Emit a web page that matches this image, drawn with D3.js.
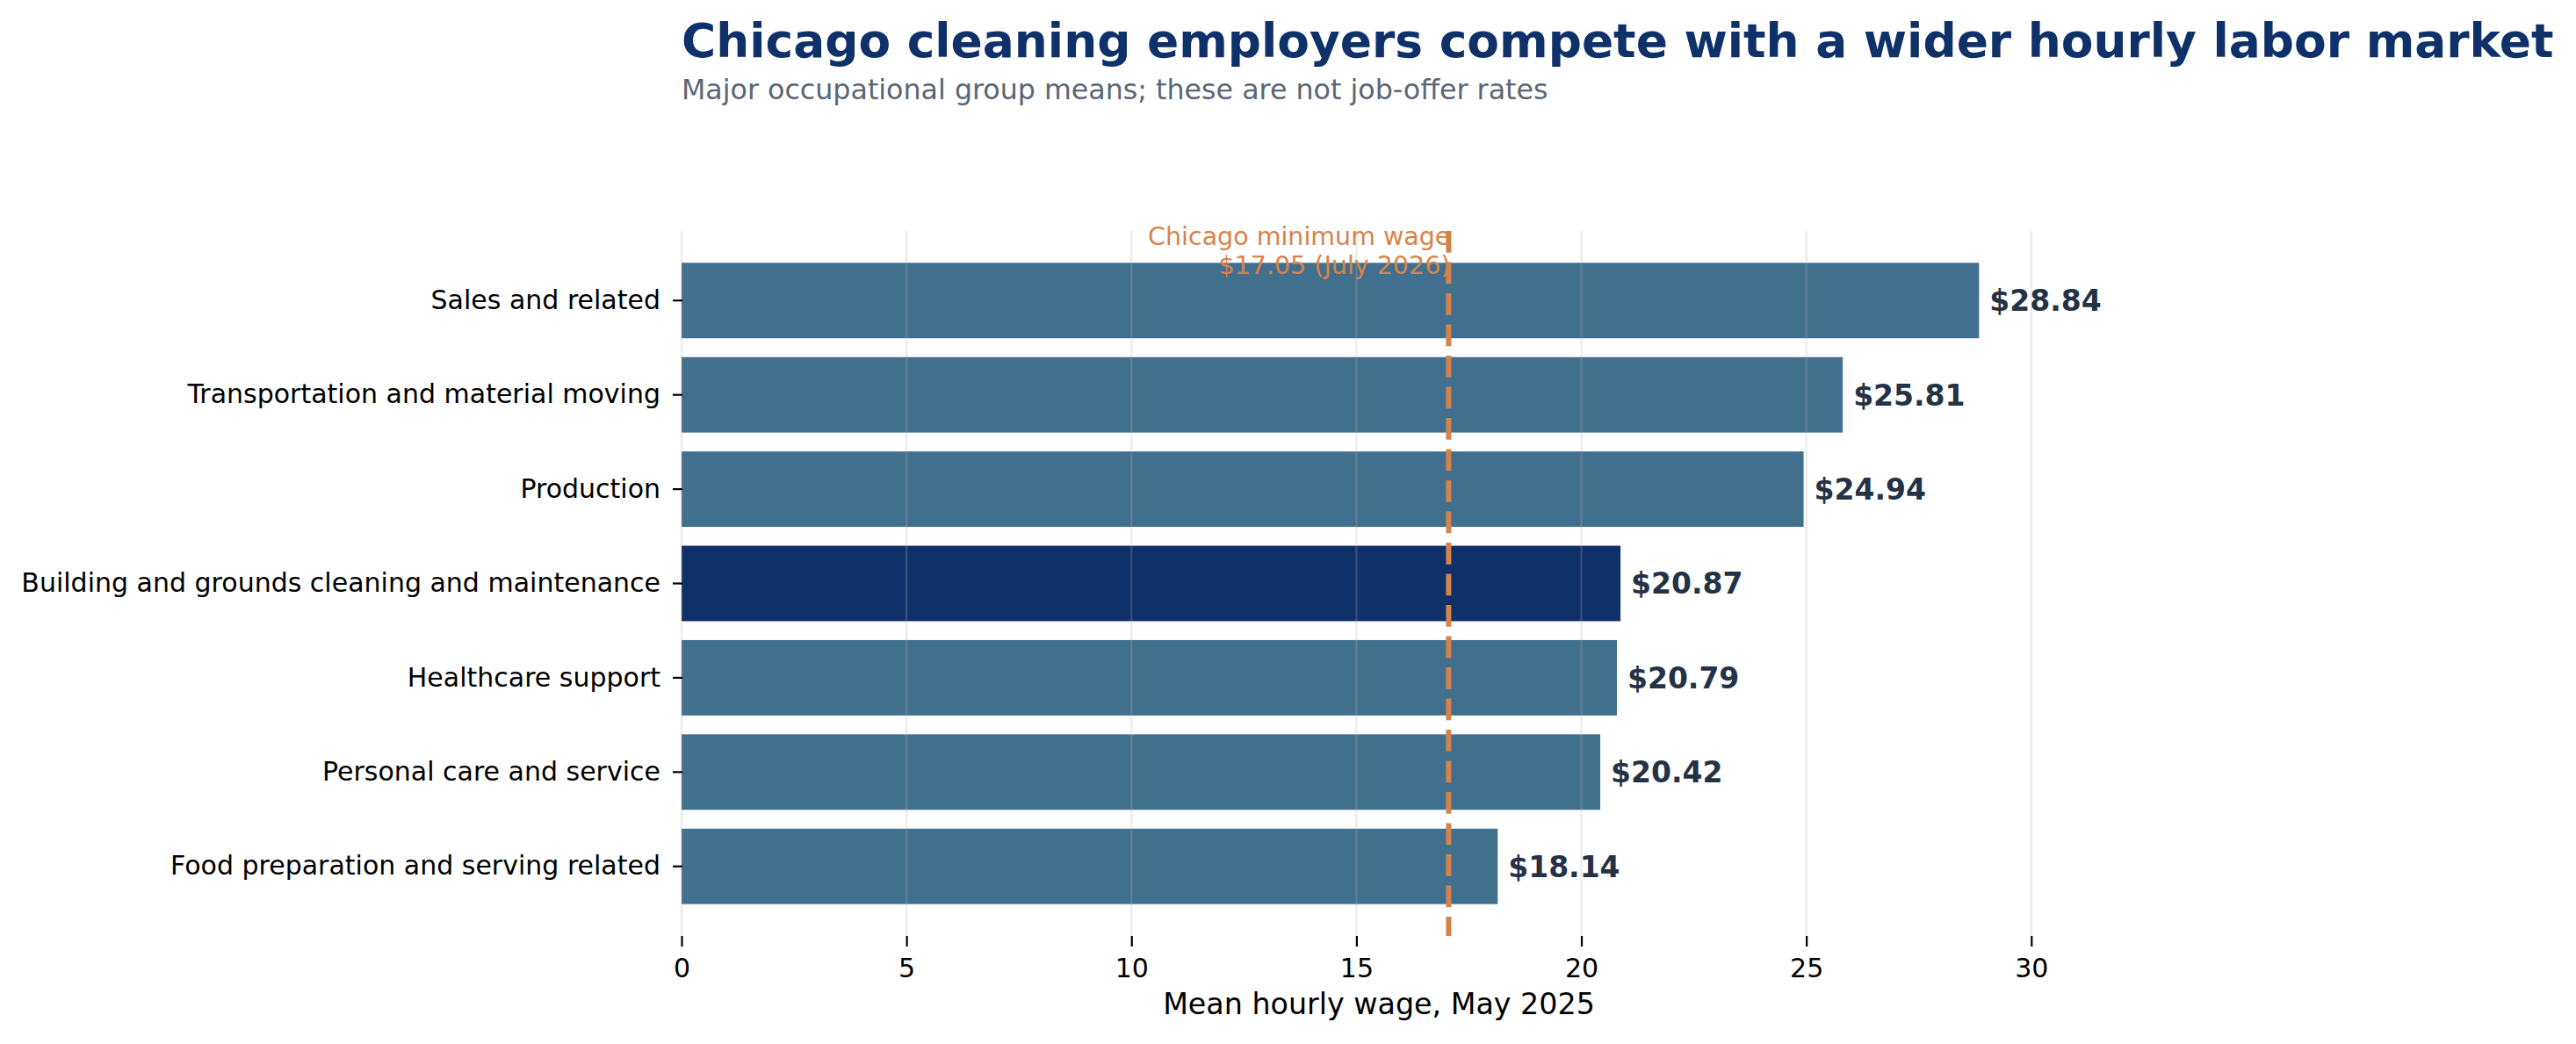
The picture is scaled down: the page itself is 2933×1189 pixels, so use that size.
<!DOCTYPE html>
<meta charset="utf-8">
<head>
    <style>
        body { margin: 0; background: white; }
        text { font-family: 'DejaVu Sans', sans-serif; }
        .title { font-size: 53.4px; font-weight: 700; fill: #0e3169; }
        .subtitle { font-size: 31.7px; fill: #5c6675; }
        .axis text { font-size: 30px; fill: black; }
        .axis line { stroke: black; stroke-width: 2.2; }
        .x-label { font-size: 33.3px; text-anchor: middle; }
        .val-label { font-size: 33px; font-weight: 700; fill: #243246; }
        .min-label { font-size: 28.5px; fill: #d9824b; text-anchor: end; }
    </style>
</head>

<script src="https://d3js.org/d3.v7.min.js"></script>

<div id="chart"></div>

<script>
    // occupational groups, top to bottom
    const categories = [
        "Sales and related",
        "Transportation and material moving",
        "Production",
        "Building and grounds cleaning and maintenance",
        "Healthcare support",
        "Personal care and service",
        "Food preparation and serving related"
    ];
    const wages = [28.84, 25.81, 24.94, 20.87, 20.79, 20.42, 18.14];
    const highlight = "Building and grounds cleaning and maintenance";
    const xTicks = [0, 5, 10, 15, 20, 25, 30];
    const minWage = 17.05;
    const minWageLines = ["Chicago minimum wage", "$17.05 (July 2026)"];

    const W = 2933, H = 1189;
    const plot = { left: 776, right: 2364, top: 263, bottom: 1066 };

    const svg = d3.select("#chart")
        .append("svg")
        .attr("width", W)
        .attr("height", H);

    const x = d3.scaleLinear()
        .domain([0, 31])
        .range([plot.left, plot.right]);

    const y = d3.scaleBand()
        .domain(categories)
        .range([plot.top, plot.bottom])
        .paddingInner(0.2)
        .paddingOuter(0.338);

    // title block
    svg.append("text")
        .attr("class", "title")
        .attr("x", plot.left)
        .attr("y", 65)
        .text("Chicago cleaning employers compete with a wider hourly labor market");
    svg.append("text")
        .attr("class", "subtitle")
        .attr("x", plot.left)
        .attr("y", 113)
        .text("Major occupational group means; these are not job-offer rates");

    // bars
    const data = categories.map((c, i) => ({ cat: c, val: wages[i] }));
    svg.selectAll("rect.bar")
        .data(data)
        .enter()
        .append("rect")
        .attr("class", "bar")
        .attr("x", x(0))
        .attr("y", d => y(d.cat))
        .attr("width", d => x(d.val) - x(0))
        .attr("height", y.bandwidth())
        .attr("fill", d => d.cat === highlight ? "#0e3169" : "#41708f");

    // vertical grid, drawn over the bars
    svg.append("g")
        .selectAll("line")
        .data(xTicks)
        .enter()
        .append("line")
        .attr("x1", d => x(d))
        .attr("x2", d => x(d))
        .attr("y1", plot.top)
        .attr("y2", plot.bottom)
        .attr("stroke", "#b0b0b0")
        .attr("stroke-opacity", 0.25)
        .attr("stroke-width", 2.2);

    // axes
    svg.append("g")
        .attr("class", "axis")
        .attr("transform", "translate(0," + plot.bottom + ")")
        .call(d3.axisBottom(x).tickValues(xTicks).tickFormat(d3.format("d")).tickSize(12).tickPadding(14))
        .call(g => g.select(".domain").remove());

    svg.append("g")
        .attr("class", "axis")
        .attr("transform", "translate(" + (plot.left + 1) + ",0)")
        .call(d3.axisLeft(y).tickSize(11).tickPadding(14))
        .call(g => g.select(".domain").remove());

    svg.append("text")
        .attr("class", "x-label")
        .attr("x", (plot.left + plot.right) / 2)
        .attr("y", 1155)
        .text("Mean hourly wage, May 2025");

    // value labels
    svg.selectAll("text.val-label")
        .data(data)
        .enter()
        .append("text")
        .attr("class", "val-label")
        .attr("x", d => x(d.val) + 12)
        .attr("y", d => y(d.cat) + y.bandwidth() / 2)
        .attr("dy", "0.36em")
        .text(d => "$" + d.val.toFixed(2));

    // minimum wage reference
    const ann = svg.append("text")
        .attr("class", "min-label")
        .attr("x", x(minWage) + 2)
        .attr("y", 279);
    ann.selectAll("tspan")
        .data(minWageLines)
        .enter()
        .append("tspan")
        .attr("x", x(minWage) + 2)
        .attr("dy", (d, i) => i === 0 ? 0 : 33)
        .text(d => d);

    svg.append("line")
        .attr("x1", x(minWage))
        .attr("x2", x(minWage))
        .attr("y1", plot.top)
        .attr("y2", plot.bottom)
        .attr("stroke", "#d4834a")
        .attr("stroke-width", 6)
        .attr("stroke-dasharray", "24.7,10.8");
</script>
